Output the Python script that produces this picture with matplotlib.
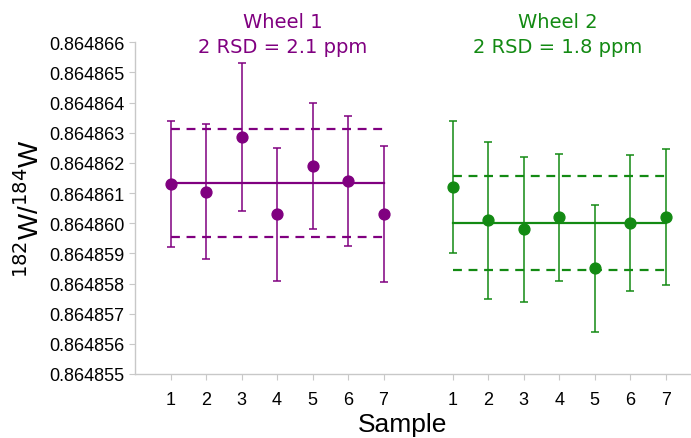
import matplotlib
matplotlib.use('Agg')
import matplotlib.pyplot as plt
import numpy as np
from matplotlib.ticker import FormatStrFormatter, MultipleLocator

plt.rcParams['font.family'] = 'Liberation Sans'

# sample positions on the shared x axis
samples = [1, 2, 3, 4, 5, 6, 7]
pos_w1 = [1, 2, 3, 4, 5, 6, 7]
pos_w2 = [8.95, 9.95, 10.95, 11.95, 12.95, 13.95, 14.95]

# 182W/184W values and 2SE errors
w1_vals = [0.8648613, 0.86486105, 0.86486285, 0.8648603, 0.8648619, 0.8648614, 0.8648603]
w1_err = [0.0000021, 0.00000225, 0.00000245, 0.0000022, 0.0000021, 0.00000215, 0.00000225]
w2_vals = [0.8648612, 0.8648601, 0.8648598, 0.8648602, 0.8648585, 0.8648600, 0.8648602]
w2_err = [0.0000022, 0.0000026, 0.0000024, 0.0000021, 0.0000021, 0.00000225, 0.00000225]

w1_mean, w1_band = 0.86486133, 0.0000018
w2_mean, w2_band = 0.8648600, 0.00000156

purple = '#800080'
green = '#138a13'

fig = plt.figure(figsize=(6.91, 4.39), dpi=100)
ax = fig.add_axes([0.1954, 0.1458, 0.8046, 0.7556])

for pos, vals, err, mean, band, col in [
        (pos_w1, w1_vals, w1_err, w1_mean, w1_band, purple),
        (pos_w2, w2_vals, w2_err, w2_mean, w2_band, green)]:
    ax.errorbar(pos, vals, yerr=err, fmt='o', color=col, ms=7.8, elinewidth=1.1,
                capsize=3, capthick=1.1, zorder=3)
    ax.plot([pos[0], pos[-1]], [mean, mean], color=col, lw=1.6)
    ax.plot([pos[0], pos[-1]], [mean + band, mean + band], color=col, lw=1.6, ls=(0, (4, 3)))
    ax.plot([pos[0], pos[-1]], [mean - band, mean - band], color=col, lw=1.6, ls=(0, (4, 3)))

ax.text(4.15, 0.86486627, 'Wheel 1\n2 RSD = 2.1 ppm', color=purple, ha='center', va='center',
        fontsize=14, family='DejaVu Sans', linespacing=1.42, clip_on=False)
ax.text(11.9, 0.86486627, 'Wheel 2\n2 RSD = 1.8 ppm', color=green, ha='center', va='center',
        fontsize=14, family='DejaVu Sans', linespacing=1.42, clip_on=False)

ax.set_xlim(0, 15.66)
ax.set_ylim(0.864855, 0.864866)
ax.yaxis.set_major_locator(MultipleLocator(0.000001))
ax.yaxis.set_major_formatter(FormatStrFormatter('%.6f'))
ax.set_xticks(pos_w1 + pos_w2)
ax.set_xticklabels([str(s) for s in samples] * 2)

for side in ['top', 'right']:
    ax.spines[side].set_visible(False)
for side in ['left', 'bottom']:
    ax.spines[side].set_color('#c8c8c8')
    ax.spines[side].set_linewidth(1.0)
ax.tick_params(axis='both', colors='#c8c8c8', labelcolor='black', labelsize=13, length=4)
ax.tick_params(axis='x', pad=8)

ax.set_ylabel(r'$^{182}$W/$^{184}$W', fontsize=20, labelpad=3)
fig.text(403 / 691, 14 / 439, 'Sample', ha='center', va='center', fontsize=19)

fig.savefig('out.png', dpi=100)
